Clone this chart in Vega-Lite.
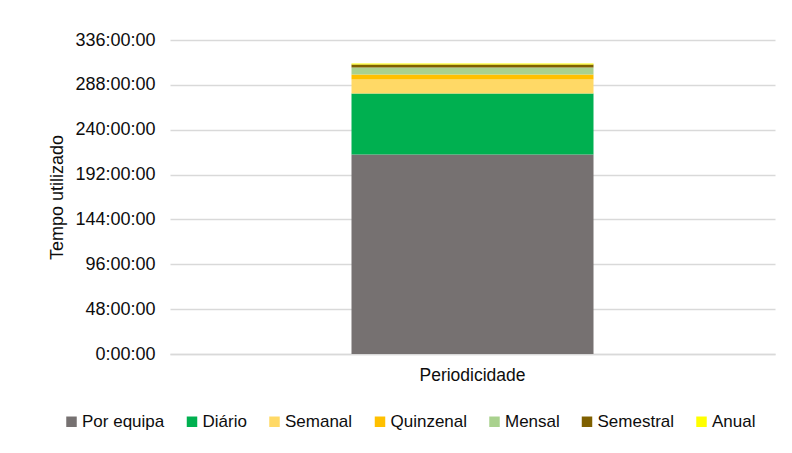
{
  "$schema": "https://vega.github.io/schema/vega-lite/v6.json",
  "autosize": {"type": "none"},
  "width": 605,
  "height": 314,
  "padding": {"left": 170, "top": 40, "right": 17, "bottom": 99},
  "background": "white",
  "config": {
    "font": "Liberation Sans",
    "view": {"stroke": null},
    "axis": {"labelColor": "#0d0d0d", "titleColor": "#0d0d0d", "titleFontWeight": "normal"}
  },
  "data": {
    "values": [
      {"eixo": "Periodicidade", "categoria": "Por equipa", "ordem": 1, "horas": 213.4},
      {"eixo": "Periodicidade", "categoria": "Diário", "ordem": 2, "horas": 65.4},
      {"eixo": "Periodicidade", "categoria": "Semanal", "ordem": 3, "horas": 14.9},
      {"eixo": "Periodicidade", "categoria": "Quinzenal", "ordem": 4, "horas": 5.4},
      {"eixo": "Periodicidade", "categoria": "Mensal", "ordem": 5, "horas": 7.5},
      {"eixo": "Periodicidade", "categoria": "Semestral", "ordem": 6, "horas": 3.2},
      {"eixo": "Periodicidade", "categoria": "Anual", "ordem": 7, "horas": 1.1}
    ]
  },
  "mark": {"type": "bar"},
  "encoding": {
    "x": {
      "field": "eixo",
      "type": "nominal",
      "scale": {"paddingInner": 0, "paddingOuter": 0.75},
      "axis": {
        "title": null,
        "labelAngle": 0,
        "labelFontSize": 17.5,
        "labelPadding": 12,
        "ticks": false,
        "domainColor": "#d9d9d9",
        "domainWidth": 1.5
      }
    },
    "y": {
      "field": "horas",
      "type": "quantitative",
      "stack": "zero",
      "scale": {"domain": [0, 336], "nice": false},
      "axis": {
        "title": "Tempo utilizado",
        "titleFontSize": 18,
        "titlePadding": 8,
        "values": [0, 48, 96, 144, 192, 240, 288, 336],
        "labelExpr": "datum.value + ':00:00'",
        "labelFontSize": 18,
        "labelPadding": 15,
        "ticks": false,
        "domain": false,
        "gridColor": "#d9d9d9",
        "gridWidth": 1.5
      }
    },
    "order": {"field": "ordem", "type": "quantitative", "sort": "ascending"},
    "color": {
      "field": "categoria",
      "type": "nominal",
      "scale": {
        "domain": ["Por equipa", "Diário", "Semanal", "Quinzenal", "Mensal", "Semestral", "Anual"],
        "range": ["#767171", "#00B050", "#FFD966", "#FFC000", "#A9D18E", "#7F6000", "#FFFF00"]
      },
      "legend": {
        "title": null,
        "orient": "none",
        "direction": "horizontal",
        "legendX": -107,
        "legendY": 373,
        "symbolType": "square",
        "symbolSize": 110,
        "symbolStrokeWidth": 0,
        "labelFontSize": 17,
        "labelColor": "#0d0d0d",
        "labelOffset": 2,
        "columnPadding": 18.5
      }
    }
  }
}
